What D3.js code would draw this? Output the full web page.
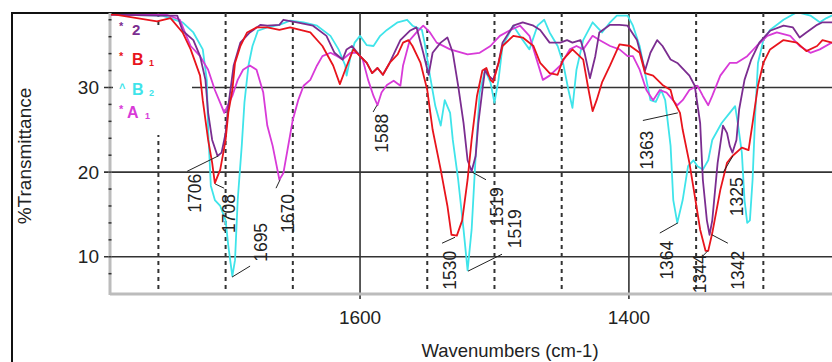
<!DOCTYPE html>
<html>
<head>
<meta charset="utf-8">
<script src="https://cdn.jsdelivr.net/npm/d3@7"></script>
<style>
  body { margin: 0; background: #fff; }
  svg { display: block; font-family: Arial, "Liberation Sans", sans-serif; }
</style>
</head>
<body>
<div id="chart"></div>
<script>
// spectra: [wavenumber, %T]
const spec2 = [[1786,38.6],[1749,38.5],[1736,38.5],[1732,36.7],[1724,35.6],[1719,33.7],[1715,30.9],[1713,27.0],[1710,23.8],[1706,21.9],[1703,22.3],[1700,24.6],[1698,27.8],[1694,32.6],[1689,35.3],[1682,36.5],[1674,37.4],[1669,37.3],[1660,37.4],[1657,38.0],[1647,37.7],[1635,37.3],[1625,36.1],[1619,34.1],[1613,33.3],[1610,34.5],[1606,34.9],[1604,34.5],[1600,33.7],[1595,32.9],[1591,31.7],[1587,32.3],[1583,31.5],[1578,32.9],[1570,35.6],[1563,36.7],[1558,37.1],[1553,34.1],[1549,31.5],[1546,34.1],[1540,35.3],[1535,35.9],[1531,34.1],[1527,30.2],[1523,25.8],[1520,21.4],[1517,20.1],[1514,21.9],[1512,25.8],[1509,29.7],[1507,32.1],[1505,31.5],[1501,30.9],[1497,32.9],[1494,35.3],[1486,37.3],[1479,37.7],[1471,37.3],[1466,36.8],[1459,35.3],[1451,35.3],[1446,35.6],[1442,35.3],[1436,35.6],[1433,34.1],[1429,31.1],[1425,33.7],[1422,36.5],[1414,37.4],[1407,37.4],[1401,37.3],[1394,35.6],[1388,32.0],[1384,34.1],[1379,35.6],[1375,34.9],[1369,33.3],[1364,32.9],[1355,31.4],[1351,30.2],[1347,25.8],[1345,19.1],[1342,14.3],[1340,12.6],[1338,14.3],[1334,21.1],[1330,25.5],[1327,24.6],[1325,23.1],[1323,22.3],[1320,23.8],[1318,27.4],[1314,30.9],[1309,33.3],[1303,35.3],[1295,36.7],[1285,37.3],[1278,37.1],[1273,35.9],[1268,36.5],[1260,37.4],[1256,37.7],[1249,37.7],[1240,37.7]];

const specB1 = [[1786,38.6],[1782,38.6],[1751,37.8],[1741,38.2],[1732,36.5],[1726,34.5],[1719,31.4],[1717,28.5],[1713,23.8],[1710,21.1],[1708,18.7],[1704,20.3],[1700,23.8],[1698,27.0],[1695,29.7],[1693,32.9],[1689,34.9],[1684,36.5],[1677,37.1],[1669,37.1],[1660,36.8],[1652,37.1],[1637,36.5],[1628,34.9],[1620,32.6],[1615,30.4],[1611,32.1],[1605,34.5],[1600,33.7],[1595,32.9],[1591,31.7],[1587,32.3],[1583,31.5],[1578,32.9],[1572,33.9],[1568,35.3],[1564,35.6],[1561,34.9],[1555,32.9],[1550,29.7],[1546,25.0],[1540,20.3],[1535,16.0],[1532,12.6],[1528,12.5],[1524,14.3],[1520,19.1],[1517,23.8],[1513,29.0],[1509,32.0],[1506,32.3],[1503,30.9],[1501,30.6],[1497,32.9],[1494,34.9],[1486,36.1],[1479,35.9],[1471,34.9],[1466,32.9],[1459,31.7],[1453,31.5],[1449,33.3],[1442,34.5],[1434,33.3],[1430,29.7],[1427,27.2],[1424,28.5],[1420,30.6],[1414,32.6],[1407,35.1],[1399,34.9],[1392,34.1],[1388,31.7],[1382,31.4],[1375,30.3],[1369,29.7],[1367,28.5],[1362,27.0],[1360,25.0],[1355,21.1],[1351,17.2],[1347,13.2],[1343,10.7],[1341,10.7],[1338,12.8],[1332,17.9],[1327,21.1],[1323,21.9],[1316,22.9],[1311,22.6],[1308,25.8],[1304,30.2],[1300,32.9],[1295,34.5],[1285,35.6],[1275,35.3],[1268,34.3],[1260,34.9],[1256,35.6],[1249,35.3],[1240,35.5]];

const specB2 = [[1786,38.6],[1747,38.5],[1732,37.7],[1724,36.5],[1717,34.5],[1714,30.9],[1713,25.0],[1711,18.4],[1708,16.7],[1704,16.0],[1700,14.3],[1698,11.3],[1695,7.7],[1693,9.6],[1691,16.7],[1688,23.1],[1686,28.2],[1683,32.6],[1680,34.9],[1676,36.7],[1669,37.1],[1660,37.4],[1652,37.9],[1642,37.7],[1632,37.3],[1622,36.1],[1616,34.5],[1611,32.6],[1610,31.4],[1607,33.7],[1604,35.3],[1600,36.1],[1595,35.0],[1590,34.9],[1585,36.1],[1580,36.8],[1572,37.7],[1565,38.0],[1561,37.3],[1554,36.8],[1552,35.3],[1548,31.4],[1544,27.8],[1540,25.5],[1537,28.5],[1533,27.0],[1531,23.8],[1527,19.1],[1523,13.2],[1520,8.4],[1517,13.2],[1514,21.9],[1511,29.4],[1507,32.1],[1503,30.6],[1500,28.2],[1497,30.9],[1494,34.9],[1486,37.3],[1479,35.6],[1474,34.5],[1468,37.3],[1463,38.0],[1459,36.5],[1453,34.9],[1449,32.9],[1445,29.7],[1442,27.6],[1439,32.1],[1434,35.6],[1427,37.7],[1420,36.5],[1414,37.7],[1409,38.5],[1401,38.5],[1397,37.3],[1392,34.9],[1388,31.7],[1384,28.5],[1380,28.3],[1376,29.7],[1373,28.5],[1369,23.1],[1367,16.7],[1364,14.0],[1360,16.7],[1356,20.7],[1352,21.4],[1349,20.7],[1345,20.3],[1341,21.4],[1338,23.8],[1331,25.8],[1325,27.0],[1321,27.8],[1319,25.8],[1316,22.3],[1314,16.7],[1312,14.0],[1310,14.3],[1308,19.1],[1306,27.0],[1304,32.9],[1300,35.6],[1295,36.8],[1285,38.0],[1275,38.9],[1265,38.5],[1258,37.7],[1253,38.2],[1249,38.5],[1240,38.5]];

const specA1 = [[1786,38.6],[1744,38.6],[1734,38.0],[1729,36.0],[1726,34.9],[1719,33.7],[1713,32.1],[1708,29.7],[1703,27.8],[1701,27.0],[1695,29.0],[1691,30.9],[1687,32.1],[1682,32.6],[1677,32.1],[1672,29.4],[1669,25.5],[1665,23.1],[1662,20.7],[1660,19.1],[1657,19.9],[1654,22.6],[1650,26.2],[1646,28.5],[1642,30.2],[1637,30.9],[1632,32.6],[1628,33.7],[1622,34.1],[1617,33.7],[1613,33.3],[1607,34.1],[1602,34.1],[1598,33.3],[1594,30.9],[1590,29.0],[1587,27.9],[1584,29.4],[1580,30.3],[1575,30.8],[1570,30.2],[1568,32.6],[1563,35.6],[1558,36.5],[1553,37.3],[1548,36.5],[1543,35.3],[1533,34.5],[1520,33.9],[1511,34.1],[1503,34.9],[1496,36.1],[1488,36.8],[1481,37.3],[1474,36.1],[1464,30.9],[1459,31.4],[1451,32.6],[1444,34.5],[1439,34.9],[1434,34.5],[1427,36.1],[1422,35.6],[1414,34.9],[1407,34.5],[1401,33.7],[1397,33.7],[1392,32.1],[1387,29.7],[1382,28.5],[1377,29.7],[1372,29.4],[1364,27.9],[1360,28.5],[1355,29.7],[1349,30.2],[1345,29.0],[1341,27.9],[1338,29.0],[1332,31.4],[1325,32.9],[1320,32.9],[1312,33.7],[1305,34.9],[1297,36.1],[1290,36.5],[1280,36.1],[1273,34.9],[1265,34.1],[1258,34.5],[1249,35.3],[1240,35.5]];

const seriesNames = ["2", "B", "B", "A"];
const seriesSubs = ["", "1", "2", "1"];
const seriesColors = ["#7b2d90", "#e8141c", "#3fe4ea", "#d83ad8"];
const allSeries = [spec2, specB1, specB2, specA1];

const yTicks = [10, 20, 30];
const xTickLabels = [1600, 1400];
const xDotted = [1750, 1700, 1650, 1550, 1500, 1450, 1350, 1300];

// peak annotations: text, leader start (peak), leader end, label foot (all in data units)
const peakText = ["1706","1708","1695","1670","1588","1530","1519","1519","1363","1364","1344","1342","1325"];
const peakFrom = [[1705.6,21.9],[1707.8,18.6],[1695.2,7.6],[1659.5,19.1],[1587.4,27.9],[1529.4,12.3],[1516.7,20.0],[1519.7,8.3],[1363.6,27.0],[1363.6,14.0],[1341.3,10.7],[1338.3,12.6],[1322.7,21.9]];
const peakTo = [[1728.6,20.1],[1701.1,18.1],[1681.8,8.9],[1662.5,18.1],[1590.3,27.1],[1539,11.6],[1506.3,19.1],[1494.4,10.3],[1389.6,26.1],[1377,12.8],[1345,10.1],[1326.4,11.6],[1330.1,19.9]];
const peakFoot = [[1723,15.2],[1698,12.8],[1674,9.4],[1654,12.8],[1584,22.3],[1533,6.1],[1498,13.6],[1485,11.0],[1387,20.3],[1372,7.3],[1347,5.7],[1319,6.1],[1320,14.8]];

const W = 832, H = 362;
const plotLeft = 110, plotTop = 13, plotBottom = 294;

const svg = d3.select("#chart").append("svg")
  .attr("width", W).attr("height", H);

svg.append("rect").attr("width", W).attr("height", H).attr("fill", "#fff");

const x = d3.scaleLinear().domain([1786, 1240]).range([plotLeft, 844]);
const y = d3.scaleLinear().domain([5.6, 38.8]).range([plotBottom, plotTop]);

// outer frame
svg.append("path")
  .attr("d", `M12,${H}V${plotTop}H${W}`)
  .attr("fill", "none").attr("stroke", "#111").attr("stroke-width", 2);

// dotted grid
svg.selectAll(".vdot").data(xDotted).enter().append("line")
  .attr("x1", d => x(d)).attr("x2", d => x(d))
  .attr("y1", plotTop).attr("y2", plotBottom)
  .attr("stroke", "#333").attr("stroke-width", 2)
  .attr("stroke-dasharray", "4,4");

// solid grid
svg.selectAll(".hgrid").data(yTicks).enter().append("line")
  .attr("x1", plotLeft - 6).attr("x2", W)
  .attr("y1", d => y(d)).attr("y2", d => y(d))
  .attr("stroke", "#333").attr("stroke-width", 1.6);

svg.selectAll(".vgrid").data(xTickLabels).enter().append("line")
  .attr("x1", d => x(d)).attr("x2", d => x(d))
  .attr("y1", plotTop).attr("y2", plotBottom + 5)
  .attr("stroke", "#333").attr("stroke-width", 1.6);

// legend box hides grid behind it
svg.append("rect")
  .attr("x", plotLeft + 3).attr("y", 28).attr("width", 79).attr("height", 107)
  .attr("fill", "#fff");

// axes (grey bars)
svg.append("line").attr("x1", plotLeft).attr("x2", plotLeft).attr("y1", plotTop).attr("y2", plotBottom + 1)
  .attr("stroke", "#bcbcbc").attr("stroke-width", 3);
svg.append("line").attr("x1", plotLeft).attr("x2", W).attr("y1", plotBottom).attr("y2", plotBottom)
  .attr("stroke", "#bcbcbc").attr("stroke-width", 3);

// minor y ticks
svg.selectAll(".ymin").data(d3.range(8, 39, 2)).enter().append("line")
  .attr("x1", plotLeft - 1.5).attr("x2", plotLeft + 1.5)
  .attr("y1", d => y(d)).attr("y2", d => y(d))
  .attr("stroke", "#333").attr("stroke-width", 1.5);

// tick labels
svg.selectAll(".ylab").data(yTicks).enter().append("text")
  .attr("x", 99).attr("y", d => y(d)).attr("dy", "0.35em")
  .attr("text-anchor", "end").attr("font-size", 19).attr("fill", "#222")
  .text(d => d);

svg.selectAll(".xlab").data(xTickLabels).enter().append("text")
  .attr("x", d => x(d)).attr("y", 324)
  .attr("text-anchor", "middle").attr("font-size", 19).attr("fill", "#222")
  .text(d => d);

svg.append("text").attr("x", 510).attr("y", 357)
  .attr("text-anchor", "middle").attr("font-size", 18.5).attr("fill", "#222")
  .text("Wavenumbers (cm-1)");

svg.append("text")
  .attr("transform", "translate(31,156) rotate(-90)")
  .attr("text-anchor", "middle").attr("font-size", 19).attr("fill", "#222")
  .text("%Transmittance");

// spectra
svg.append("clipPath").attr("id", "plot-clip").append("rect")
  .attr("x", plotLeft + 1).attr("y", plotTop + 1).attr("width", W - plotLeft).attr("height", plotBottom - plotTop - 2);

const line = d3.line().x(d => x(d[0])).y(d => y(d[1]));
const drawOrder = [2, 3, 0, 1];
svg.append("g").attr("clip-path", "url(#plot-clip)")
  .selectAll("path").data(drawOrder).enter().append("path")
  .attr("d", i => line(allSeries[i]))
  .attr("fill", "none")
  .attr("stroke", i => seriesColors[i])
  .attr("stroke-width", 1.8)
  .attr("stroke-linejoin", "round");

// legend
const legendY = [35, 65, 95, 118];
const legendMark = ["*", "*", "\u02C4", "*"];
seriesNames.forEach((name, i) => {
  const g = svg.append("g").attr("fill", seriesColors[i]).attr("font-weight", "bold");
  g.append("text").attr("x", 119).attr("y", legendY[i] - 5)
    .attr("font-size", 11).text(legendMark[i]);
  g.append("text").attr("x", i === 3 ? 127 : 132).attr("y", legendY[i])
    .attr("font-size", i === 0 ? 15 : 16).text(name);
  if (seriesSubs[i]) {
    g.append("text").attr("x", i === 3 ? 145 : 149).attr("y", legendY[i] + 1)
      .attr("font-size", 9).text(seriesSubs[i]);
  }
});

// peak labels
const ann = svg.append("g");
peakText.forEach((txt, i) => {
  ann.append("line")
    .attr("x1", x(peakFrom[i][0])).attr("y1", y(peakFrom[i][1]))
    .attr("x2", x(peakTo[i][0])).attr("y2", y(peakTo[i][1]))
    .attr("stroke", "#222").attr("stroke-width", 1);
  ann.append("text")
    .attr("transform", `translate(${x(peakFoot[i][0])},${y(peakFoot[i][1])}) rotate(-90)`)
    .attr("dy", "0.36em")
    .attr("font-size", 17.5).attr("fill", "#222")
    .text(txt);
});
</script>
</body>
</html>
